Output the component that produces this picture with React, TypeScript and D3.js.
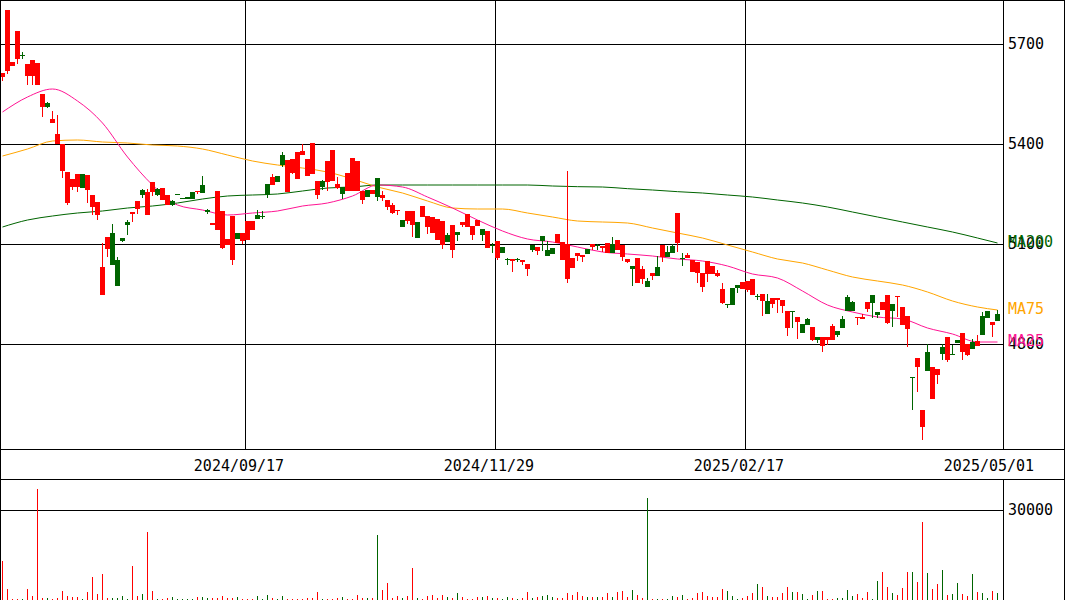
import React from "react";
import * as d3 from "d3";

// ---- data ----
const opens = [5613,5802,5646,5739,5664,5640,5652,5643,5550,5511,5475,5430,5400,5316,5295,5310,5268,5307,5247,5226,5031,5121,5037,4974,5109,5157,5196,5229,5247,5256,5286,5247,5268,5247,5217,5247,5235,5235,5235,5259,5253,5196,5163,5259,5199,5115,5184,5115,5133,5169,5169,5175,5181,5247,5301,5286,5337,5352,5355,5376,5379,5355,5403,5289,5271,5349,5382,5280,5250,5313,5358,5349,5259,5241,5262,5241,5247,5232,5217,5202,5151,5199,5199,5118,5214,5184,5181,5175,5169,5106,5157,5127,5166,5190,5154,5172,5127,5139,5094,5109,5073,5052,5055,5052,5052,5040,5082,5091,5109,5064,5070,5130,5106,5100,5058,5073,5067,5070,5100,5094,5094,5103,5073,5112,5097,5055,5025,5058,5025,4971,5013,5004,5097,5061,5073,5193,5055,5067,5052,5046,5013,5049,5034,5013,4965,4917,4917,4968,4986,4989,4995,4941,4950,4890,4938,4938,4932,4899,4896,4881,4833,4857,4851,4812,4821,4821,4854,4827,4848,4899,4899,4881,4881,4926,4923,4887,4926,4947,4899,4944,4911,4884,4698,4758,4602,4719,4731,4725,4770,4821,4767,4803,4833,4800,4785,4809,4827,4878,4866,4869];
const highs = [5613,5802,5646,5739,5676,5640,5652,5643,5550,5526,5499,5487,5400,5316,5295,5310,5310,5307,5247,5226,5103,5121,5160,5061,5118,5172,5196,5229,5265,5265,5286,5268,5268,5247,5232,5250,5238,5241,5256,5259,5304,5205,5163,5259,5199,5115,5184,5133,5133,5169,5169,5202,5199,5280,5310,5304,5376,5352,5355,5376,5400,5355,5403,5289,5292,5349,5382,5301,5271,5313,5358,5349,5259,5262,5262,5298,5259,5232,5223,5202,5172,5199,5199,5166,5214,5184,5181,5175,5169,5133,5157,5136,5166,5190,5154,5172,5145,5139,5103,5109,5091,5058,5055,5058,5052,5040,5097,5091,5124,5109,5088,5130,5106,5319,5058,5073,5067,5085,5100,5100,5094,5103,5121,5112,5097,5055,5034,5058,5034,4998,5013,5064,5097,5094,5100,5193,5073,5073,5052,5046,5013,5049,5034,5022,4983,4920,4968,4977,4986,4989,4995,4950,4950,4950,4938,4938,4932,4899,4899,4881,4860,4878,4851,4821,4821,4821,4860,4839,4884,4947,4929,4881,4890,4926,4947,4896,4926,4947,4920,4944,4911,4884,4701,4758,4602,4800,4731,4725,4800,4821,4797,4812,4833,4800,4815,4827,4896,4899,4866,4902];
const lows = [5589,5610,5634,5640,5655,5577,5577,5577,5481,5508,5463,5400,5298,5217,5262,5256,5268,5223,5187,5172,4947,5061,5037,4974,5106,5127,5166,5190,5238,5187,5244,5244,5232,5217,5214,5247,5235,5235,5235,5250,5253,5190,5157,5142,5085,5097,5037,5115,5100,5112,5142,5175,5175,5238,5277,5286,5331,5256,5310,5295,5367,5304,5310,5235,5262,5259,5289,5265,5235,5259,5259,5259,5220,5241,5250,5229,5229,5202,5190,5187,5151,5160,5121,5118,5181,5130,5133,5112,5085,5106,5058,5109,5151,5151,5112,5154,5109,5088,5073,5052,5073,5037,5016,5046,5037,5004,5076,5067,5079,5064,5070,5103,5052,4983,5028,5049,5046,5070,5082,5082,5076,5073,5073,5082,5049,5043,4974,4983,4980,4971,4992,5004,5046,5061,5073,5076,5034,5058,5016,4983,4956,4986,5010,5001,4920,4908,4917,4953,4965,4956,4947,4932,4884,4890,4908,4893,4893,4824,4848,4815,4833,4857,4809,4803,4776,4797,4812,4821,4848,4899,4899,4857,4875,4896,4878,4878,4902,4860,4851,4881,4857,4791,4602,4656,4512,4719,4635,4680,4752,4746,4767,4803,4752,4764,4785,4794,4827,4878,4821,4869];
const closes = [5601,5619,5634,5655,5667,5604,5604,5577,5511,5523,5463,5400,5319,5223,5271,5271,5310,5262,5211,5187,4947,5085,5133,5052,5118,5166,5190,5205,5262,5187,5256,5265,5232,5217,5229,5250,5238,5241,5256,5256,5277,5202,5157,5142,5088,5097,5052,5133,5109,5112,5142,5187,5184,5280,5277,5304,5367,5256,5313,5295,5367,5304,5310,5247,5289,5286,5289,5268,5271,5259,5259,5259,5232,5262,5250,5298,5238,5211,5193,5199,5172,5169,5157,5166,5181,5151,5133,5112,5097,5127,5082,5136,5157,5151,5127,5154,5145,5088,5097,5058,5091,5055,5049,5055,5046,5025,5097,5079,5124,5082,5088,5103,5052,4995,5028,5064,5061,5085,5091,5097,5088,5073,5100,5082,5061,5046,5034,4983,4995,4989,5004,5031,5061,5076,5094,5103,5058,5058,5016,5013,4971,5010,5010,5004,4923,4920,4968,4977,4965,4962,4947,4944,4929,4929,4920,4932,4914,4848,4899,4866,4860,4875,4812,4821,4794,4812,4812,4839,4875,4941,4926,4878,4875,4905,4947,4896,4902,4863,4920,4941,4857,4845,4701,4731,4551,4776,4635,4707,4791,4752,4770,4812,4776,4767,4806,4794,4884,4899,4857,4890];
const volumes = [13000,3700,400,400,400,3700,1300,37000,700,700,400,700,3000,1300,1000,1000,400,2700,7700,2000,8700,700,700,700,1300,400,11300,1300,2000,22600,3000,400,400,700,1000,400,400,400,400,1000,1000,700,700,700,1300,700,700,1000,400,400,400,1300,400,1700,700,400,1300,400,400,400,400,700,700,2700,400,400,400,700,1000,400,400,1700,700,700,700,21600,3300,5700,700,1300,700,1300,10700,700,400,1300,1700,700,1700,1000,700,2300,1000,400,400,1000,1000,1300,700,700,400,900,700,400,700,2700,700,1000,1300,1700,1000,700,700,2300,1700,2700,1300,1000,1000,1000,1000,2300,1000,2700,3000,1000,3300,1700,700,34000,400,400,400,400,1300,1000,1700,400,700,2300,2700,1300,1000,1000,3700,3000,1300,400,700,1300,2300,5300,4300,1300,1000,1000,2300,4300,2700,2700,2000,400,1700,3000,3000,400,400,700,700,3300,1300,2000,700,2700,400,6300,9300,4300,2300,1700,4000,9300,9300,6000,26000,9000,3700,5300,10000,1700,2000,5700,2000,1300,8700,2700,2300,700,3000,2300];

// moving averages, read at every 5th session
const maIndex = [0,5,10,15,20,25,30,35,40,45,50,55,60,65,70,75,80,85,90,95,100,105,110,115,120,125,130,135,140,145,150,155,160,165,170,175,180,185,190,195,199];
const ma25 = [5496,5541,5565,5529,5463,5361,5277,5217,5202,5187,5193,5199,5214,5223,5244,5277,5271,5241,5208,5172,5139,5115,5106,5091,5076,5070,5064,5055,5049,5034,5010,4998,4959,4917,4896,4881,4875,4848,4830,4806,4806];
const ma75 = [5364,5385,5409,5412,5406,5403,5397,5394,5385,5367,5349,5337,5328,5316,5295,5271,5253,5229,5208,5205,5205,5193,5181,5169,5166,5163,5148,5133,5118,5097,5076,5055,5043,5022,5001,4989,4977,4956,4929,4911,4902];
const ma200 = [5151,5172,5184,5193,5199,5208,5214,5223,5235,5244,5247,5250,5259,5268,5271,5277,5277,5277,5277,5277,5277,5277,5274,5272,5271,5266,5262,5257,5253,5247,5241,5232,5223,5211,5196,5181,5166,5151,5136,5118,5103];

const dateTickIndex = [49, 99, 149, 199];
const dateTickLabels = ["2024/09/17", "2024/11/29", "2025/02/17", "2025/05/01"];
const priceTicks = [5700, 5400, 5100, 4800];
const volumeTicks = [30000];

const UP = "#006400";
const DOWN = "#ff0000";
const FONT = "'DejaVu Sans Mono', monospace";

export default function App() {
  const W = 1065;
  const H = 600;
  const plotRight = 1003;
  const n = closes.length;

  const x = d3.scaleLinear().domain([0, n]).range([0, n * 5]);
  const y = d3.scaleLinear().domain([5700, 4800]).range([44, 344]);
  const yv = d3.scaleLinear().domain([0, 30000]).range([600, 510]);

  const cx = (i: number) => x(i) + 2.5;
  const crisp = (v: number) => Math.round(v) + 0.5;

  const maLine = d3
    .line<number>()
    .x((_, k) => cx(maIndex[k]))
    .y((d) => y(d))
    .curve(d3.curveMonotoneX);

  const mas = [
    { name: "MA200", data: ma200, color: "#006400" },
    { name: "MA75", data: ma75, color: "#ffa500" },
    { name: "MA25", data: ma25, color: "#ff1493" },
  ];

  return (
    <svg
      width={W}
      height={H}
      style={{ position: "absolute", left: 0, top: 0, background: "#fff" }}
      shapeRendering="crispEdges"
    >
      <rect x={0} y={0} width={W} height={H} fill="#fff" />
      {/* grid */}
      {priceTicks.map((p) => (
        <line key={p} x1={0} x2={plotRight} y1={crisp(y(p))} y2={crisp(y(p))} stroke="#000" />
      ))}
      {dateTickIndex.slice(0, 3).map((i) => (
        <line key={i} x1={x(i) + 0.5} x2={x(i) + 0.5} y1={0} y2={449} stroke="#000" />
      ))}
      {volumeTicks.map((v) => (
        <line key={v} x1={0} x2={plotRight} y1={crisp(yv(v))} y2={crisp(yv(v))} stroke="#000" />
      ))}

      {/* volume */}
      {volumes.map((v, i) => (
        <rect
          key={"v" + i}
          x={x(i) + 2}
          width={1}
          y={yv(v)}
          height={600 - yv(v)}
          fill={closes[i] >= opens[i] ? UP : DOWN}
        />
      ))}

      {/* moving averages */}
      {mas.map((m) => (
        <path key={m.name} d={maLine(m.data) || ""} fill="none" stroke={m.color} strokeWidth={1} shapeRendering="auto" />
      ))}

      {/* candles */}
      {closes.map((c, i) => {
        const o = opens[i];
        const col = c >= o ? UP : DOWN;
        const top = Math.round(y(Math.max(o, c)));
        const bot = Math.round(y(Math.min(o, c)));
        return (
          <g key={"c" + i}>
            <rect x={x(i) + 2} width={1} y={Math.round(y(highs[i]))} height={Math.max(1, Math.round(y(lows[i])) - Math.round(y(highs[i])))} fill={col} />
            <rect x={x(i)} width={5} y={top} height={Math.max(1, bot - top)} fill={col} />
          </g>
        );
      })}

      {/* frame */}
      <line x1={0.5} x2={0.5} y1={0} y2={H} stroke="#000" />
      <line x1={0} x2={W} y1={0.5} y2={0.5} stroke="#000" />
      <line x1={W - 0.5} x2={W - 0.5} y1={0} y2={H} stroke="#000" />
      <line x1={plotRight + 0.5} x2={plotRight + 0.5} y1={0} y2={449} stroke="#000" />
      <line x1={plotRight + 0.5} x2={plotRight + 0.5} y1={479} y2={H} stroke="#000" />
      <line x1={0} x2={W} y1={449.5} y2={449.5} stroke="#000" />
      <line x1={0} x2={W} y1={479.5} y2={479.5} stroke="#000" />

      {/* labels */}
      <g fontFamily={FONT} fontSize={15} shapeRendering="auto">
        {priceTicks.map((p) => (
          <text key={p} x={1008} y={y(p)} dy="0.36em" fill="#000">{p}</text>
        ))}
        {volumeTicks.map((v) => (
          <text key={v} x={1008} y={yv(v)} dy="0.36em" fill="#000">{v}</text>
        ))}
        {dateTickIndex.map((i, k) => (
          <text key={i} x={x(i) - 6} y={466} dy="0.36em" textAnchor="middle" fill="#000">{dateTickLabels[k]}</text>
        ))}
        {mas.map((m) => (
          <text key={m.name} x={1008} y={y(m.data[m.data.length - 1]) - 1} dy="0.36em" fill={m.color}>{m.name}</text>
        ))}
      </g>
    </svg>
  );
}
